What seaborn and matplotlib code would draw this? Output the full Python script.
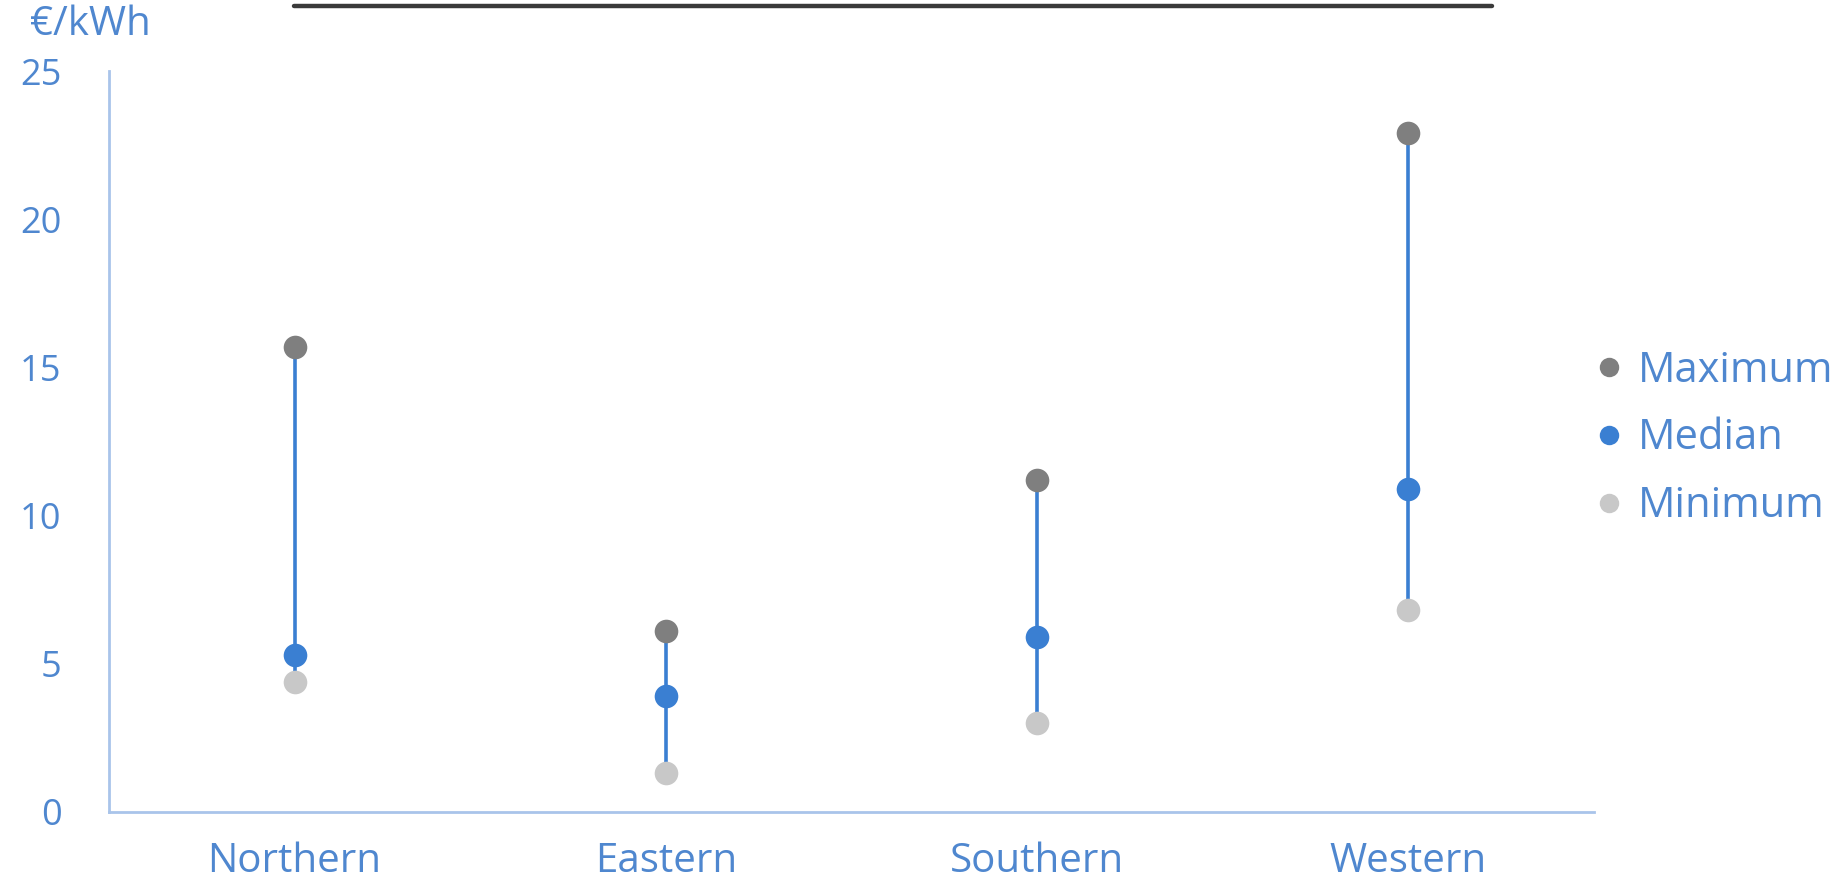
import numpy as np
import pandas as pd
import matplotlib
matplotlib.use("Agg")
import matplotlib.pyplot as plt
from matplotlib.lines import Line2D
import seaborn as sns

# Savings range per region (€/kWh)
regions = ["Northern", "Eastern", "Southern", "Western"]
maximum = [15.7, 6.1, 11.2, 22.9]
median = [5.3, 3.9, 5.9, 10.9]
minimum = [4.4, 1.3, 3.0, 6.8]
y_ticks = [0, 5, 10, 15, 20, 25]
unit_label = "€/kWh"
legend_order = ["Maximum", "Median", "Minimum"]

df = pd.DataFrame({
    "Region": regions * 3,
    "Statistic": ["Maximum"] * 4 + ["Median"] * 4 + ["Minimum"] * 4,
    "Value": maximum + median + minimum,
})

palette = {"Maximum": "#7f7f7f", "Median": "#3a7fd2", "Minimum": "#c8c8c8"}
text_blue = "#4f87cf"
axis_blue = "#a9c4ea"

sns.set_theme(style="white")
plt.rcParams["font.family"] = ["Open Sans", "DejaVu Sans"]

fig = plt.figure(figsize=(18.45, 8.82), dpi=100)
ax = fig.add_axes([0.059, 0.0794, 0.805, 0.8401])

# range line from minimum to maximum
pos = np.arange(len(regions))
ax.vlines(pos, minimum, maximum, color=palette["Median"], lw=2.6, zorder=1)

# points: minimum first, median last so it sits on top
for stat in ["Minimum", "Maximum", "Median"]:
    sns.stripplot(data=df[df["Statistic"] == stat], x="Region", y="Value",
                  order=regions, jitter=False, color=palette[stat], size=17,
                  linewidth=0, ax=ax, zorder=3)

ax.set_xlim(-0.5, len(regions) - 0.5)
ax.set_ylim(0, 25)
ax.set_yticks(y_ticks)
ax.set_xlabel("")
ax.set_ylabel("")
ax.tick_params(axis="both", length=0, colors=text_blue)
ax.tick_params(axis="y", labelsize=26, pad=34)
ax.tick_params(axis="x", labelsize=29, pad=21)

for side in ["top", "right"]:
    ax.spines[side].set_visible(False)
for side in ["left", "bottom"]:
    ax.spines[side].set_color(axis_blue)
    ax.spines[side].set_linewidth(2)

fig.text(0.016, 0.972, unit_label, color=text_blue, fontsize=29,
         ha="left", va="center")

handles = [Line2D([], [], marker="o", ls="", color=palette[s], markersize=14,
                  markeredgewidth=0) for s in legend_order]
leg = fig.legend(handles, legend_order, loc="center left",
                 bbox_to_anchor=(0.838, 0.503), frameon=False, fontsize=30,
                 labelcolor=text_blue, handletextpad=0.1, labelspacing=0.62,
                 handlelength=1.2)

# underline rule of the heading at the top edge
fig.add_artist(Line2D([294 / 1845, 1492 / 1845], [1 - 6 / 882, 1 - 6 / 882],
                      transform=fig.transFigure, color="#3a3a3a", lw=3.2))

fig.savefig("out.png", dpi=100)
